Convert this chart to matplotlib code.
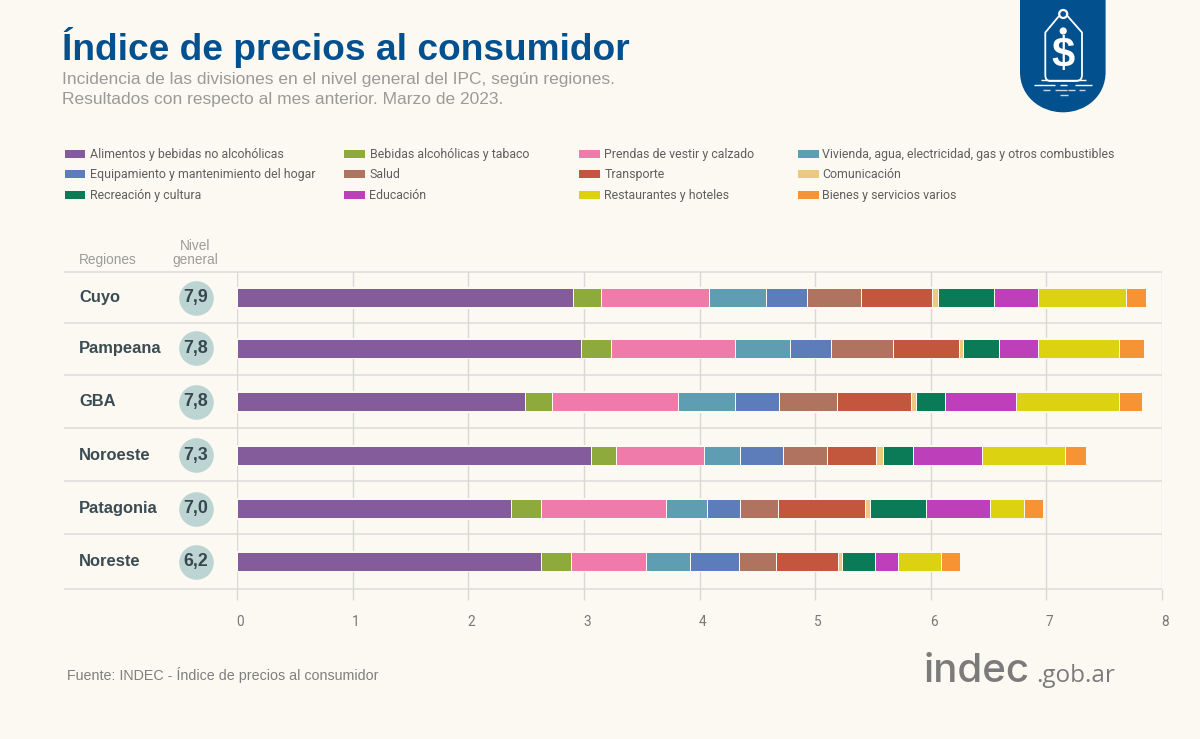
import matplotlib
matplotlib.use("Agg")
import numpy as np
import matplotlib.pyplot as plt
from matplotlib.patches import Rectangle, PathPatch, Circle
from matplotlib.path import Path
from matplotlib.transforms import ScaledTranslation

regions = ["Cuyo", "Pampeana", "GBA", "Noroeste", "Patagonia", "Noreste"]
general = [7.9, 7.8, 7.8, 7.3, 7.0, 6.2]
divisions = ["Alimentos y bebidas no alcohólicas", "Bebidas alcohólicas y tabaco",
             "Prendas de vestir y calzado", "Vivienda, agua, electricidad, gas y otros combustibles",
             "Equipamiento y mantenimiento del hogar", "Salud", "Transporte", "Comunicación",
             "Recreación y cultura", "Educación", "Restaurantes y hoteles", "Bienes y servicios varios"]
cuyo      = [2.90, 0.25, 0.93, 0.49, 0.36, 0.47, 0.61, 0.05, 0.49, 0.38, 0.76, 0.17]
pampeana  = [2.97, 0.26, 1.08, 0.47, 0.36, 0.53, 0.57, 0.04, 0.31, 0.34, 0.70, 0.21]
gba       = [2.49, 0.23, 1.09, 0.50, 0.38, 0.50, 0.64, 0.04, 0.25, 0.62, 0.89, 0.20]
noroeste  = [3.06, 0.22, 0.76, 0.31, 0.37, 0.38, 0.43, 0.06, 0.26, 0.59, 0.72, 0.18]
patagonia = [2.37, 0.26, 1.08, 0.35, 0.29, 0.33, 0.75, 0.04, 0.49, 0.55, 0.30, 0.16]
noreste   = [2.63, 0.26, 0.65, 0.38, 0.42, 0.32, 0.54, 0.03, 0.29, 0.20, 0.37, 0.16]
colors = ["#845c9b", "#8eaa3c", "#ee7baa", "#5f9db2", "#5d7cba", "#b07360",
          "#c2573e", "#ecc981", "#0b7a57", "#be3fba", "#dcd211", "#f59335"]

BG = "#fcf9f2"
W, H = 1200, 739
NARROW = "Roboto"
SANS = "Liberation Sans"

fig = plt.figure(figsize=(W / 100, H / 100), dpi=100, facecolor=BG)
left, right, top, bottom = 237.3, 1162.0, 272.3, 588.7
ax = fig.add_axes([left / W, 1 - bottom / H, (right - left) / W, (bottom - top) / H], facecolor=BG)

# rows are very slightly unevenly spaced in the reference
row_pos = np.array([0, 0.954, 1.972, 2.982, 4.0, 5.0])
seps = [-0.487, 0.481, 1.467, 2.461, 3.472, 4.483, 5.512]
row_px = 52.74
ax.set_ylim(5.512, -0.487)
ax.set_xlim(0, 8)
for s in ax.spines.values():
    s.set_visible(False)
ax.set_yticks([])
ax.set_xticks(range(9))
ax.set_axisbelow(True)
ax.grid(axis="x", color="#d8d8d4", lw=1.0, zorder=0)
ax.tick_params(axis="x", length=7.6, width=1.0, color="#d8d8d4", pad=11.5,
               labelsize=9.8, labelcolor="#777777")
for lab in ax.get_xticklabels():
    lab.set_family(NARROW)
    lab.set_transform(lab.get_transform() + ScaledTranslation(3 / 100, 0, fig.dpi_scale_trans))

ytr = ax.get_yaxis_transform()
ax.hlines(seps, (64 - left) / (right - left), 1, transform=ytr, color="#dcdcd8",
          lw=1.1, clip_on=False, zorder=0.5)

series = np.array([cuyo, pampeana, gba, noroeste, patagonia, noreste])
ax.barh(row_pos, series.sum(axis=1), height=21.5 / row_px, color=BG, zorder=1.5)
lefts = np.zeros(len(regions))
for j, c in enumerate(colors):
    ax.barh(row_pos, series[:, j], left=lefts, height=19 / row_px, color=c,
            edgecolor=BG, linewidth=0.72, zorder=2)
    lefts = lefts + series[:, j]

cx = (195.5 - left) / (right - left)
ax.scatter([cx] * len(regions), row_pos, s=620, color="#bdd5d2", transform=ytr,
           clip_on=False, zorder=3, linewidths=0)
for y, r, g in zip(row_pos, regions, general):
    ax.text((79 - left) / (right - left), y, r, transform=ytr, family=SANS,
            weight="bold", size=11.9, color="#3b4b52", va="center", ha="left")
    ax.text(cx, y, f"{g:.1f}".replace(".", ","), transform=ytr, family=SANS, weight="bold",
            size=12.8, color="#37474f", va="center", ha="center", zorder=4)

# overlay in pixel units for titles, legend and logo
d = fig.add_axes([0, 0, 1, 1], zorder=5)
d.set_xlim(0, W)
d.set_ylim(H, 0)
d.axis("off")

d.text(62, 60, "Índice de precios al consumidor", family=SANS, weight="bold", size=26.7,
       color="#03508f", va="baseline")
d.text(62.5, 84, "Incidencia de las divisiones en el nivel general del IPC, según regiones.",
       family=SANS, size=12.5, color="#9a9a97", va="baseline")
d.text(62.5, 104, "Resultados con respecto al mes anterior. Marzo de 2023.",
       family=SANS, size=12.5, color="#9a9a97", va="baseline")

d.text(79, 264, "Regiones", family=SANS, size=9.8, color="#9c9c98", va="baseline")
d.text(195, 250, "Nivel", family=SANS, size=9.8, color="#9c9c98", va="baseline", ha="center")
d.text(195, 264, "general", family=SANS, size=9.8, color="#9c9c98", va="baseline", ha="center")
d.text(67, 680, "Fuente: INDEC - Índice de precios al consumidor", family=SANS, size=10.3,
       color="#7f7f7f", va="baseline")

col_x = [64.5, 344, 579, 798]
col_tx = [90, 369.5, 604.5, 822.5]
row_y = [153.7, 174.0, 194.7]
for i, (name, c) in enumerate(zip(divisions, colors)):
    col, row = i % 4, i // 4
    d.add_patch(Rectangle((col_x[col], row_y[row] - 4), 20.5, 8, facecolor=c, edgecolor="none"))
    d.text(col_tx[col], row_y[row] + 0.6, name, family=NARROW, size=8.9, color="#5f5f5f",
           va="center", ha="left")

# logo shield
blue = "#03508f"
verts = [(1020, 0), (1105.6, 0), (1105.6, 72), (1105.6, 96), (1086, 112.3), (1063, 112.3),
         (1040, 112.3), (1020, 96), (1020, 72), (1020, 0)]
codes = [Path.MOVETO, Path.LINETO, Path.LINETO, Path.CURVE4, Path.CURVE4, Path.CURVE4,
         Path.CURVE4, Path.CURVE4, Path.CURVE4, Path.CLOSEPOLY]
d.add_patch(PathPatch(Path(verts, codes), facecolor=blue, edgecolor="none"))
tag = [(1059, 16), (1045.3, 32.5), (1045.3, 75), (1045.3, 81), (1050, 81), (1076, 81),
       (1082, 81), (1082, 75), (1082, 32.5), (1067.5, 16)]
tag_codes = [Path.MOVETO, Path.LINETO, Path.LINETO, Path.CURVE3, Path.CURVE3, Path.LINETO,
             Path.CURVE3, Path.CURVE3, Path.LINETO, Path.LINETO]
d.add_patch(PathPatch(Path(tag, tag_codes), facecolor="none", edgecolor="white", lw=1.3))
d.add_patch(Circle((1063.2, 14), 4, facecolor="none", edgecolor="white", lw=1.6))
d.add_patch(Circle((1063.2, 31), 3.6, facecolor="white", edgecolor="none"))
d.text(1063.2, 56.5, "$", family=SANS, weight="bold", size=30, color="white",
       ha="center", va="center")
for y, x0, x1, col in [(80.3, 1041, 1086, "white"), (85, 1033.5, 1055, "white"),
                       (85, 1060, 1067, "white"), (85, 1075, 1092, "white"),
                       (90, 1042.5, 1050, "#c9d6e2"), (90, 1055, 1067, "#c9d6e2"),
                       (90, 1068, 1075, "#c9d6e2"), (90, 1078.5, 1085, "#c9d6e2"),
                       (94.7, 1060, 1067.5, "#c9d6e2")]:
    d.plot([x0, x1], [y, y], color=col, lw=1.0, solid_capstyle="butt")

# site logotype
d.text(924, 682, "indec", family="Inter", size=29, color="#7b7b7b", va="baseline", weight="medium")
d.text(1036, 682, ".gob.ar", family="Open Sans", size=17.5, color="#7b7b7b", va="baseline")

fig.savefig("out.png", dpi=100, facecolor=BG)
